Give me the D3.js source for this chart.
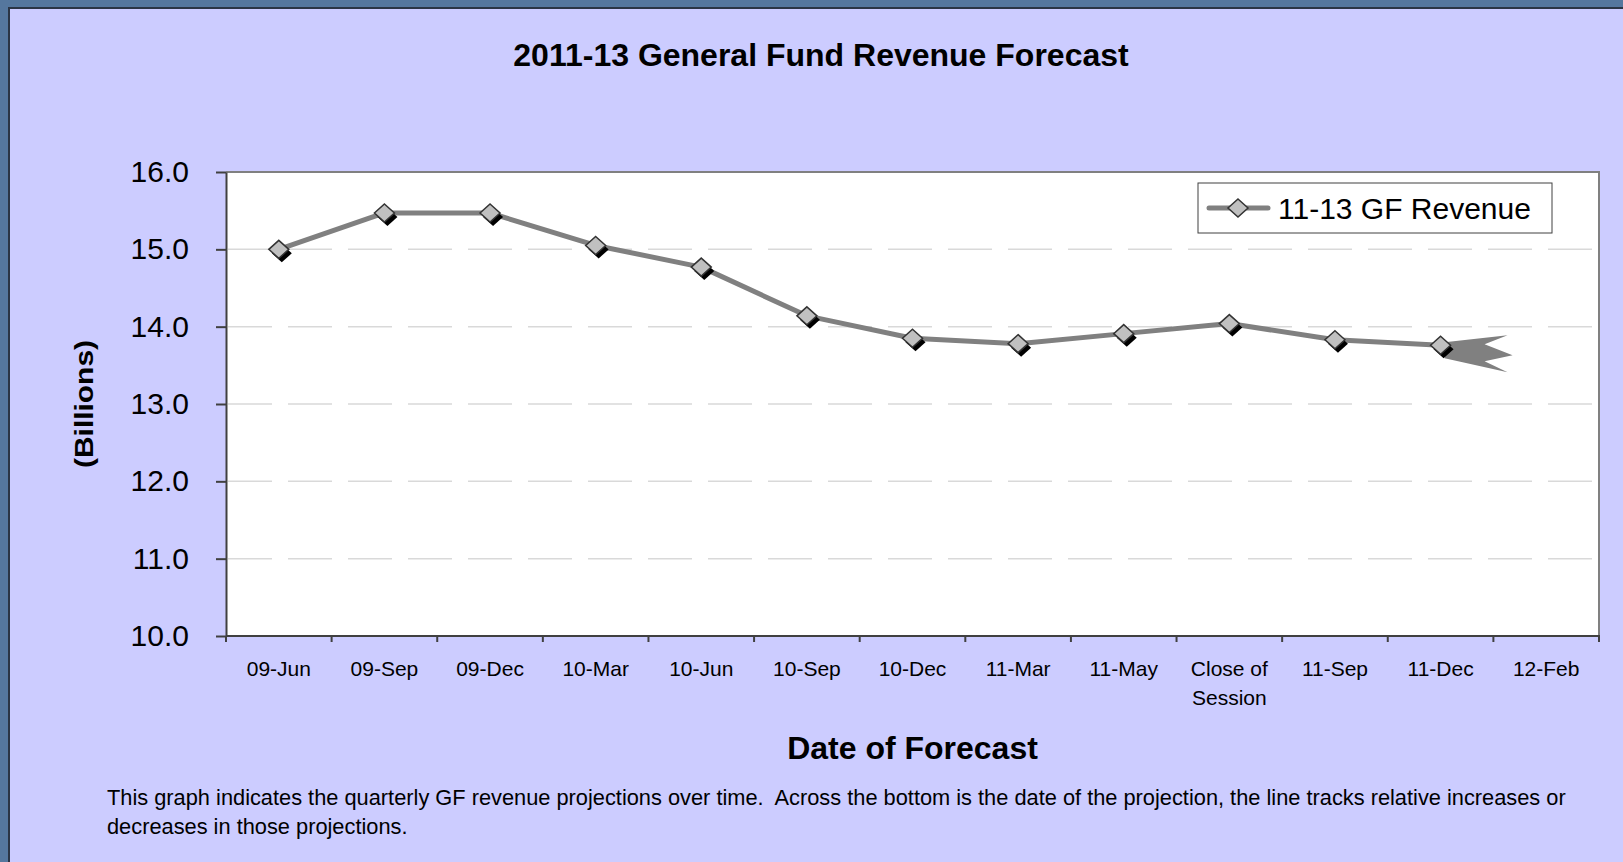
<!DOCTYPE html>
<html lang="en">
<head>
    <title>2011-13 General Fund Revenue Forecast</title>
    <style>
        body { margin: 0; background: #55779e; }
        svg { display: block; font-family: "Liberation Sans", Arial, sans-serif; }
    </style>
    <script src="https://d3js.org/d3.v7.min.js"></script>
</head>
<body>
    <script>
        // chart data
        const categories = ["09-Jun", "09-Sep", "09-Dec", "10-Mar", "10-Jun", "10-Sep", "10-Dec",
                            "11-Mar", "11-May", "Close of Session", "11-Sep", "11-Dec", "12-Feb"];
        const revenue    = [15.00, 15.47, 15.47, 15.05, 14.77, 14.14, 13.85,
                            13.78, 13.91, 14.04, 13.83, 13.76, null];
        const yTicks     = [10, 11, 12, 13, 14, 15, 16];
        const seriesName = "11-13 GF Revenue";
        const title      = "2011-13 General Fund Revenue Forecast";
        const xTitle     = "Date of Forecast";
        const yTitle     = "(Billions)";
        const note       = ["This graph indicates the quarterly GF revenue projections over time.  Across the bottom is the date of the projection, the line tracks relative increases or",
                            "decreases in those projections."];

        // dimensions
        const width  = 1623;
        const height = 862;
        const plot   = {left: 226, top: 172, right: 1599, bottom: 636};

        const svg = d3.select("body").append("svg")
            .attr("width", width)
            .attr("height", height);

        // slide background + lilac panel
        svg.append("rect").attr("width", width).attr("height", height).attr("fill", "#55779e");
        svg.append("rect")
            .attr("x", 9).attr("y", 8)
            .attr("width", width).attr("height", height)
            .attr("fill", "#ccccff")
            .attr("stroke", "#2b3545").attr("stroke-width", 2);

        // scales
        const x = d3.scaleBand().domain(categories).range([plot.left, plot.right]);
        const y = d3.scaleLinear().domain([10, 16]).range([plot.bottom, plot.top]);
        const cx = d => x(d) + x.bandwidth() / 2;

        // plot area
        svg.append("rect")
            .attr("x", plot.left).attr("y", plot.top)
            .attr("width", plot.right - plot.left).attr("height", plot.bottom - plot.top)
            .attr("fill", "white");
        svg.append("path")
            .attr("d", `M${plot.left},${plot.top}H${plot.right}V${plot.bottom}`)
            .attr("fill", "none").attr("stroke", "#808080").attr("stroke-width", 2);

        // dashed gridlines
        svg.append("g").selectAll("line")
            .data(yTicks.filter(t => t > 10 && t < 16))
            .join("line")
            .attr("x1", plot.left + 2).attr("x2", plot.right)
            .attr("y1", d => y(d)).attr("y2", d => y(d))
            .attr("stroke", "#d9d9d9").attr("stroke-width", 1.5)
            .attr("stroke-dasharray", "44,16");

        // y axis
        const yAxis = svg.append("g")
            .attr("transform", `translate(${plot.left},0)`)
            .call(d3.axisLeft(y).tickValues(yTicks).tickFormat(d3.format(".1f"))
                .tickSize(10).tickSizeOuter(0).tickPadding(27));
        yAxis.select(".domain").attr("stroke", "#404040").attr("stroke-width", 2);
        yAxis.selectAll(".tick line").attr("stroke", "#404040").attr("stroke-width", 2);
        yAxis.selectAll(".tick text")
            .attr("font-family", "Liberation Sans, Arial, sans-serif")
            .attr("font-size", 30).attr("fill", "black");

        // x axis - labels centred in bands, ticks on the band boundaries
        const xAxis = svg.append("g")
            .attr("transform", `translate(0,${plot.bottom})`)
            .call(d3.axisBottom(x).tickSize(0).tickPadding(0));
        xAxis.select(".domain").remove();
        xAxis.selectAll(".tick text").remove();
        xAxis.selectAll(".tick").each(function(d) {
            // wrap long labels at the last space
            const i = d.lastIndexOf(" ");
            const lines = d.length > 8 && i > 0 ? [d.slice(0, i), d.slice(i + 1)] : [d];
            d3.select(this).selectAll("text.lbl")
                .data(lines)
                .join("text")
                .attr("class", "lbl")
                .attr("y", (l, k) => 40 + k * 29)
                .attr("text-anchor", "middle")
                .attr("font-family", "Liberation Sans, Arial, sans-serif")
                .attr("font-size", 21).attr("fill", "black")
                .text(l => l);
        });
        svg.append("g").selectAll("line")
            .data(categories.map(c => x(c)).concat([plot.right]))
            .join("line")
            .attr("x1", d => d).attr("x2", d => d)
            .attr("y1", plot.bottom).attr("y2", plot.bottom + 6)
            .attr("stroke", "#404040").attr("stroke-width", 2);
        svg.append("line")
            .attr("x1", plot.left).attr("x2", plot.right + 1)
            .attr("y1", plot.bottom).attr("y2", plot.bottom)
            .attr("stroke", "#404040").attr("stroke-width", 2);

        // series line
        const pts = categories.map((c, i) => ({c: c, v: revenue[i]})).filter(d => d.v != null);
        svg.append("path")
            .datum(pts)
            .attr("fill", "none")
            .attr("stroke", "#808080")
            .attr("stroke-width", 5)
            .attr("stroke-linejoin", "round")
            .attr("d", d3.line().x(d => cx(d.c)).y(d => y(d.v)));

        // projection arrow (three barbs) off the last point
        const last = pts[pts.length - 1];
        const ax = cx(last.c), ay = y(last.v);
        const arrow = [[4, -3], [67, -10], [44, -1], [72, 10], [44, 16], [67, 27], [4, 13]];
        svg.append("path")
            .attr("d", d3.line()(arrow.map(p => [ax + p[0], ay + p[1]])) + "Z")
            .attr("fill", "#808080");

        // diamond markers with drop shadow
        const diamond = (px, py) => `M${px},${py - 9}L${px + 10},${py}L${px},${py + 9}L${px - 10},${py}Z`;
        svg.append("g").selectAll("path")
            .data(pts)
            .join("path")
            .attr("d", d => diamond(cx(d.c) + 3, y(d.v) + 4))
            .attr("fill", "black");
        svg.append("g").selectAll("path")
            .data(pts)
            .join("path")
            .attr("d", d => diamond(cx(d.c), y(d.v)))
            .attr("fill", "#c0c0c0")
            .attr("stroke", "#333333")
            .attr("stroke-width", 1.5);

        // legend
        const lg = svg.append("g");
        lg.append("rect")
            .attr("x", 1198).attr("y", 183).attr("width", 354).attr("height", 50)
            .attr("fill", "white").attr("stroke", "#404040").attr("stroke-width", 1);
        lg.append("line")
            .attr("x1", 1209).attr("x2", 1268).attr("y1", 208).attr("y2", 208)
            .attr("stroke", "#808080").attr("stroke-width", 5).attr("stroke-linecap", "round");
        lg.append("path")
            .attr("d", diamond(1238, 208))
            .attr("fill", "#c0c0c0").attr("stroke", "#333333").attr("stroke-width", 1.5);
        lg.append("text")
            .attr("x", 1278).attr("y", 219)
            .attr("font-size", 30)
            .text(seriesName);

        // titles
        svg.append("text")
            .attr("x", 821).attr("y", 66)
            .attr("text-anchor", "middle")
            .attr("font-size", 32).attr("font-weight", "bold")
            .text(title);
        svg.append("text")
            .attr("x", (plot.left + plot.right) / 2).attr("y", 759)
            .attr("text-anchor", "middle")
            .attr("font-size", 32).attr("font-weight", "bold")
            .text(xTitle);
        svg.append("text")
            .attr("transform", `translate(93,${(plot.top + plot.bottom) / 2}) rotate(-90)`)
            .attr("text-anchor", "middle")
            .attr("font-size", 26).attr("font-weight", "bold")
            .attr("textLength", 128).attr("lengthAdjust", "spacingAndGlyphs")
            .text(yTitle);

        // footnote
        svg.append("g").selectAll("text")
            .data(note)
            .join("text")
            .attr("x", 107)
            .attr("y", (d, i) => 805 + i * 29)
            .attr("font-size", 21.8)
            .style("white-space", "pre")
            .text(d => d);
    </script>
</body>
</html>
